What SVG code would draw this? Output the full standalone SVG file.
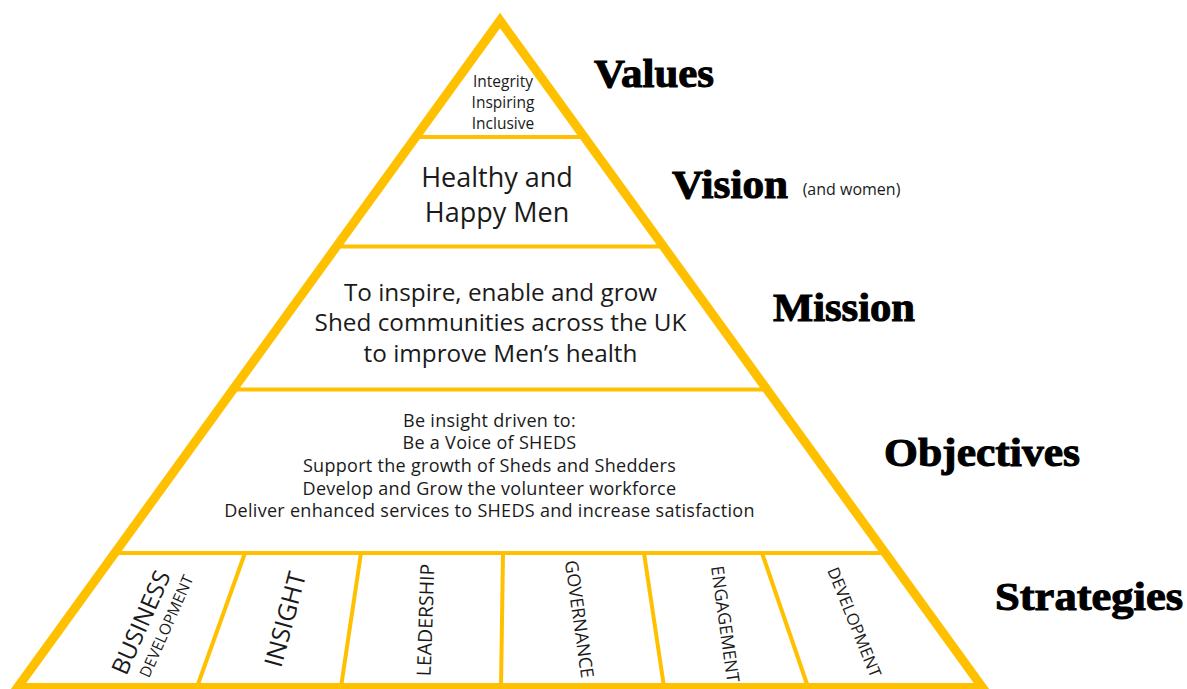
<svg xmlns="http://www.w3.org/2000/svg" width="1187" height="689" viewBox="0 0 1187 689">
<style>
.body{font-family:"Open Sans","Noto Sans",sans-serif;fill:#1a1a1a;text-anchor:middle}
.obj{font-size:18px;letter-spacing:0.3px}
.head{font-family:"Liberation Serif","DejaVu Serif",serif;font-weight:bold;font-size:40px;fill:#000;stroke:#000;stroke-width:1}
.strat{font-family:"Open Sans","Noto Sans",sans-serif;fill:#1a1a1a;text-anchor:middle;dominant-baseline:central}
.div{stroke:#FFC000;stroke-width:4;fill:none}
</style>
<rect width="1187" height="689" fill="#fff"/>
<g id="frame">
  <line class="div" x1="415.7" y1="137" x2="584.3" y2="137"/>
  <line class="div" x1="336.5" y1="246.5" x2="663.5" y2="246.5"/>
  <line class="div" x1="233.1" y1="389.5" x2="766.9" y2="389.5"/>
  <line class="div" x1="114.8" y1="553" x2="885.2" y2="553"/>
  <line class="div" x1="245" y1="553" x2="197" y2="687"/>
  <line class="div" x1="361" y1="553" x2="341" y2="687"/>
  <line class="div" x1="503" y1="553" x2="501" y2="687"/>
  <line class="div" x1="644" y1="553" x2="664" y2="687"/>
  <line class="div" x1="762" y1="553" x2="808" y2="687"/>
  <polygon points="500,20.5 982.5,687.5 17.5,687.5" fill="none" stroke="#FFC000" stroke-width="9" stroke-linejoin="miter" stroke-miterlimit="10"/>
</g>
<g id="connectors"></g>
<g id="values">
  <text class="body" font-size="15.5" x="503" y="87">Integrity</text>
  <text class="body" font-size="15.5" x="503" y="107.5">Inspiring</text>
  <text class="body" font-size="15.5" x="503" y="128.5">Inclusive</text>
  <text class="head" x="594" y="86.7" textLength="120" lengthAdjust="spacingAndGlyphs">Values</text>
</g>
<g id="vision">
  <text class="body" font-size="27" x="497" y="186.7">Healthy and</text>
  <text class="body" font-size="27" x="497" y="221.7">Happy Men</text>
  <text class="head" x="672" y="198" textLength="116" lengthAdjust="spacingAndGlyphs">Vision</text>
  <text class="body" font-size="16" x="851.5" y="195">(and women)</text>
</g>
<g id="mission">
  <text class="body" font-size="24.3" x="500.5" y="300.5">To inspire, enable and grow</text>
  <text class="body" font-size="24.3" x="500.5" y="331">Shed communities across the UK</text>
  <text class="body" font-size="24.3" x="500.5" y="361.5">to improve Men’s health</text>
  <text class="head" x="773" y="320.7" textLength="142" lengthAdjust="spacingAndGlyphs">Mission</text>
</g>
<g id="objectives">
  <text class="body obj" x="489.5" y="426.5">Be insight driven to:</text>
  <text class="body obj" x="489.5" y="449">Be a Voice of SHEDS</text>
  <text class="body obj" x="489.5" y="471.5">Support the growth of Sheds and Shedders</text>
  <text class="body obj" x="489.5" y="494.5">Develop and Grow the volunteer workforce</text>
  <text class="body obj" x="489.5" y="517.3">Deliver enhanced services to SHEDS and increase satisfaction</text>
  <text class="head" x="884" y="466" textLength="196" lengthAdjust="spacingAndGlyphs">Objectives</text>
</g>
<g id="strategies">
  <text class="strat" font-size="24" transform="translate(140,622) rotate(-66)">BUSINESS</text>
  <text class="strat" font-size="15.5" transform="translate(166,626) rotate(-66)">DEVELOPMENT</text>
  <text class="strat" font-size="25" transform="translate(284,619) rotate(-75)">INSIGHT</text>
  <text class="strat" font-size="19.5" transform="translate(425,620) rotate(-88)">LEADERSHIP</text>
  <text class="strat" font-size="18" transform="translate(580,619) rotate(82)">GOVERNANCE</text>
  <text class="strat" font-size="17.5" transform="translate(726,624) rotate(82)">ENGAGEMENT</text>
  <text class="strat" font-size="16.5" transform="translate(855,622) rotate(68)">DEVELOPMENT</text>
  <text class="head" x="995" y="610" textLength="188" lengthAdjust="spacingAndGlyphs">Strategies</text>
</g>
</svg>
